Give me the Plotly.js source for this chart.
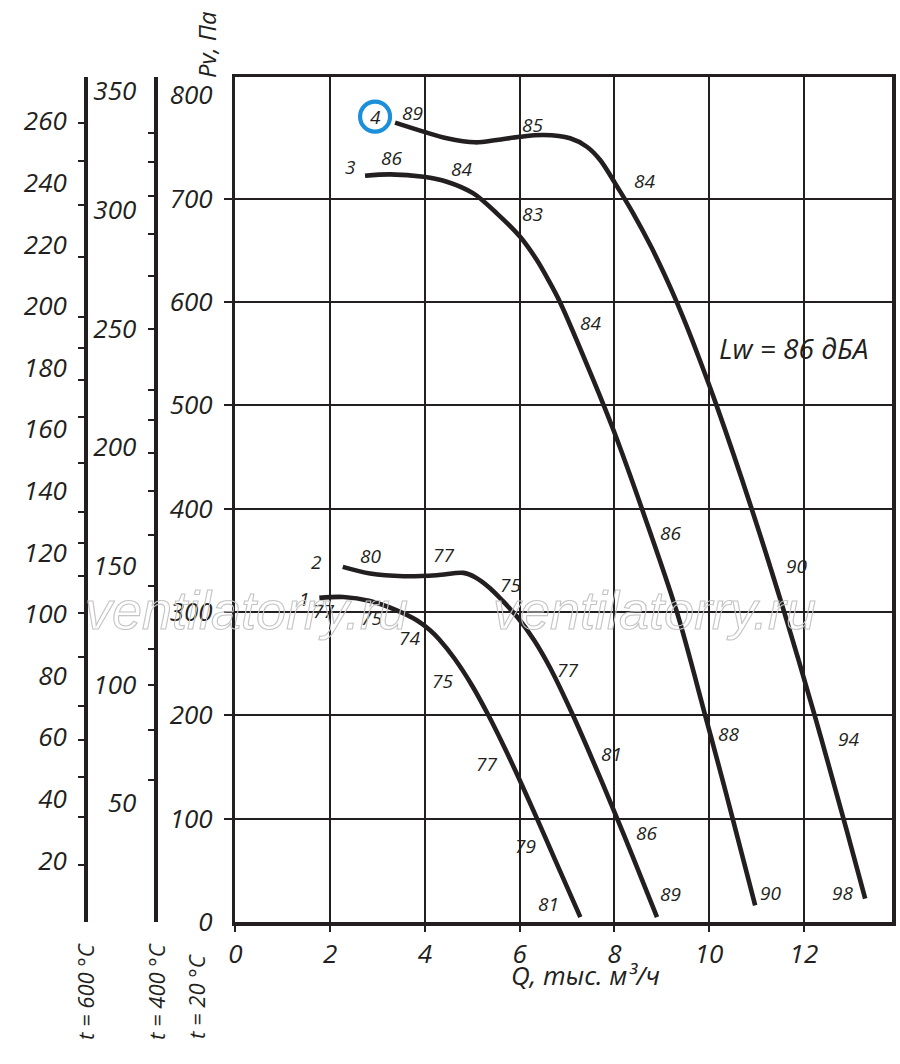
<!DOCTYPE html>
<html>
<head>
<meta charset="utf-8">
<script src="https://cdn.plot.ly/plotly-3.0.1.min.js"></script>
<style>
  html, body { margin: 0; padding: 0; background: #ffffff; }
  #chart { width: 900px; height: 1064px; }
</style>
</head>
<body>
<div id="chart"></div>
<script>
// ---------------- data ----------------
// Fan curves: Q (thousand m3/h) vs Pv (Pa) at t = 20 °C
const C1_Q = [1.774, 2.281, 2.844, 3.408, 3.83, 4.111, 4.301, 4.622, 4.993, 5.342, 5.658, 5.973, 6.368, 6.754, 7.282];
const C1_P = [313.6, 314.5, 310.6, 301.6, 292.0, 282.3, 273.6, 255.2, 229.1, 200.0, 171.0, 140.3, 100.0, 59.6, 4.7];

const C2_Q = [2.268, 2.844, 3.547, 4.253, 4.814, 5.061, 5.376, 5.65, 5.973, 6.307, 6.649, 7.126, 7.544, 7.97, 8.386, 8.9];
const C2_P = [343.6, 337.2, 334.6, 335.5, 337.8, 333.6, 323.0, 310.4, 293.9, 272.6, 245.5, 200.0, 156.4, 110.0, 63.5, 4.7];

const C3_Q = [2.738, 3.267, 3.97, 4.464, 5.025, 5.519, 6.011, 6.364, 6.609, 6.856, 7.558, 7.981, 8.58, 9.319, 9.917, 10.286, 10.497, 10.972];
const C3_P = [722.1, 723.4, 721.1, 716.3, 705.0, 685.7, 663.0, 640.5, 621.1, 599.5, 524.3, 476.0, 400.1, 300.0, 200.0, 137.1, 100.0, 16.1];

const C4_Q = [3.372, 3.97, 4.464, 5.061, 5.519, 6.011, 6.503, 7.067, 7.419, 7.7, 8.017, 8.397, 8.777, 9.207, 9.503, 9.777, 10.155, 10.896, 11.584, 12.228, 12.612, 12.904, 13.294];
const C4_P = [773.4, 764.7, 758.3, 754.4, 756.6, 759.8, 761.5, 758.3, 750.1, 737.3, 714.7, 685.7, 653.3, 611.4, 579.2, 546.9, 500.1, 400.1, 300.0, 200.0, 137.1, 88.7, 22.6];

// curve numbers and where they are written
const CURVE_NAMES = ['1', '2', '3', '4'];
const NAME_Q = [1.458, 1.704, 2.422, 2.95];
const NAME_P = [313.0, 348.4, 730.2, 779.2];
const CIRCLED_CURVE = '4';

// sound power levels (dB) written along each curve
const C1_LW = ['77', '75', '74', '75', '77', '79', '81'];
const C1_LW_Q = [1.859, 2.880, 3.674, 4.379, 5.308, 6.117, 6.609];
const C1_LW_P = [300.7, 294.6, 275.2, 233.2, 153.2, 73.5, 17.0];

const C2_LW = ['80', '77', '75', '77', '81', '86', '89'];
const C2_LW_Q = [2.859, 4.392, 5.800, 7.018, 7.932, 8.686, 9.178];
const C2_LW_P = [353.9, 354.9, 325.8, 244.2, 162.2, 86.4, 26.7];

const C3_LW = ['86', '84', '83', '84', '86', '88', '90'];
const C3_LW_Q = [3.303, 4.766, 6.271, 7.489, 9.178, 10.408, 11.289];
const C3_LW_P = [738.9, 728.3, 685.0, 579.5, 376.5, 182.3, 28.4];

const C4_LW = ['89', '85', '84', '90', '94', '98'];
const C4_LW_Q = [3.746, 6.279, 8.635, 11.838, 12.942, 12.815];
const C4_LW_P = [783.1, 771.2, 717.2, 344.5, 177.4, 28.4];

const LW_NOTE = 'Lw = 86 дБА';
const LW_NOTE_Q = 11.774;
const LW_NOTE_P = 555.0;

// axes
const Q_RANGE = [0, 13.86];
const P_RANGE = [0, 817.6];
const Q_TICKS = [0, 2, 4, 6, 8, 10, 12];
const P_LABELS = [0, 100, 200, 300, 400, 500, 600, 700, 800];
const P_GRID = [100, 200, 300, 400, 500, 600, 700];

// temperature scales (Pa at 600 °C and 400 °C)
const T_REF = 20, T_600 = 600, T_400 = 400;
const T600_LABELS = [20, 40, 60, 80, 100, 120, 140, 160, 180, 200, 220, 240, 260];
const T600_TICKS = [259.5, 247, 233, 216, 196.5, 186.5, 176, 164, 149, 133, 123, 112.5, 100.5, 86, 70, 59, 47, 34, 18.5];
const T400_LABELS = [50, 100, 150, 200, 250, 300, 350];
const T400_TICKS = [332.5, 320, 306, 290, 272, 250, 224, 211.5, 197.5, 181.5, 163, 141.5, 115, 100, 81, 60];

const X_TITLE = 'Q, тыс. м³/ч';
const Y_TITLE = 'Pv, Па';
const T_TITLES = ['t = 600 °C', 't = 400 °C', 't = 20 °C'];
const WATERMARK = 'ventilatorry.ru';
const WATERMARK_Q = [0.238, 8.84];
const WATERMARK_P = 302;

// ---------------- style ----------------
const INK = '#231f20';
const BLUE = '#1b8fd9';
const FONT = '"Open Sans", "Noto Sans", sans-serif';
const W = 900, H = 1064;
const M = {l: 20, r: 8, t: 77, b: 142};
const PLOT_LEFT_PX = 235.3;
const AX600_PX = 86, AX400_PX = 155.5;
const innerW = W - M.l - M.r, innerH = H - M.t - M.b;
const px2paperX = px => (px - M.l) / innerW;
const px2paperY = py => (H - M.b - py) / innerH;

const scale = t => (273 + T_REF) / (273 + t);
const R600 = [0, P_RANGE[1] * scale(T_600)];
const R400 = [0, P_RANGE[1] * scale(T_400)];

// ---------------- traces ----------------
const curveLine = {color: INK, width: 4.6, shape: 'spline', smoothing: 0.9};
const curves = [[C1_Q, C1_P], [C2_Q, C2_P], [C3_Q, C3_P], [C4_Q, C4_P]];
const data = curves.map((c, i) => ({
  type: 'scatter', mode: 'lines', x: c[0], y: c[1],
  name: CURVE_NAMES[i], line: curveLine, hoverinfo: 'x+y', showlegend: false
}));
const ci = CURVE_NAMES.indexOf(CIRCLED_CURVE);
data.push({
  type: 'scatter', mode: 'markers', x: [NAME_Q[ci]], y: [NAME_P[ci]],
  marker: {symbol: 'circle-open', size: 30, color: BLUE, line: {width: 4.2, color: BLUE}},
  hoverinfo: 'skip', showlegend: false
});
// dummy traces so that the overlaying axes exist
['y2', 'y3', 'y4', 'y5', 'y6'].forEach(ya => data.push({
  type: 'scatter', mode: 'lines', x: [null], y: [null], xaxis: 'x', yaxis: ya,
  hoverinfo: 'skip', showlegend: false
}));

// ---------------- annotations ----------------
const labelFont = {family: FONT, size: 19, color: INK, style: 'italic'};
const annotations = [];
function addLabels(texts, qs, ps) {
  texts.forEach((t, i) => annotations.push({
    text: t, x: qs[i], y: ps[i], xref: 'x', yref: 'y',
    showarrow: false, xanchor: 'center', yanchor: 'middle', font: labelFont
  }));
}
addLabels(CURVE_NAMES, NAME_Q, NAME_P);
addLabels(C1_LW, C1_LW_Q, C1_LW_P);
addLabels(C2_LW, C2_LW_Q, C2_LW_P);
addLabels(C3_LW, C3_LW_Q, C3_LW_P);
addLabels(C4_LW, C4_LW_Q, C4_LW_P);
annotations.push({
  text: LW_NOTE, x: LW_NOTE_Q, y: LW_NOTE_P, xref: 'x', yref: 'y', showarrow: false,
  xanchor: 'center', yanchor: 'middle', font: {family: FONT, size: 28, color: INK, style: 'italic'}
});
WATERMARK_Q.forEach(q => annotations.push({
  text: WATERMARK, x: q, y: WATERMARK_P, xref: 'x', yref: 'y', showarrow: false,
  xanchor: 'center', yanchor: 'middle',
  font: {family: '"Liberation Sans", Arial, sans-serif', size: 54, color: 'rgba(0,0,0,0)', style: 'italic'}
}));
// axis titles
annotations.push({
  text: X_TITLE, x: px2paperX(585), y: px2paperY(975), xref: 'paper', yref: 'paper',
  showarrow: false, xanchor: 'center', yanchor: 'middle',
  font: {family: FONT, size: 26, color: INK, style: 'italic'}
});
annotations.push({
  text: Y_TITLE, x: px2paperX(207), y: px2paperY(45), xref: 'paper', yref: 'paper',
  showarrow: false, xanchor: 'center', yanchor: 'middle', textangle: -90,
  font: {family: FONT, size: 24, color: INK, style: 'italic'}
});
const tTitlePx = [[85, 992], [156, 992], [196, 997]];
T_TITLES.forEach((t, i) => annotations.push({
  text: t, x: px2paperX(tTitlePx[i][0]), y: px2paperY(tTitlePx[i][1]), xref: 'paper', yref: 'paper',
  showarrow: false, xanchor: 'center', yanchor: 'middle', textangle: -90,
  font: {family: FONT, size: 22, color: INK, style: 'italic'}
}));

// ---------------- layout ----------------
const tickFont = {family: FONT, size: 26, color: INK, style: 'italic'};
const hidden = 'rgba(0,0,0,0)';
const layout = {
  width: W, height: H, margin: {l: M.l, r: M.r, t: M.t, b: M.b, pad: 0},
  paper_bgcolor: '#ffffff', plot_bgcolor: '#ffffff', showlegend: false,
  font: {family: FONT, color: INK},
  xaxis: {
    domain: [px2paperX(PLOT_LEFT_PX), 1], range: Q_RANGE, tickvals: Q_TICKS,
    ticks: 'outside', ticklen: 6, tickwidth: 2, tickcolor: INK, tickfont: tickFont,
    showgrid: true, gridcolor: INK, gridwidth: 2, zeroline: false,
    showline: true, mirror: true, linecolor: INK, linewidth: 3.5, fixedrange: true
  },
  yaxis: {
    range: P_RANGE, tickvals: P_LABELS, ticks: 'outside', ticklen: 14, tickcolor: hidden,
    tickfont: tickFont, showgrid: false, zeroline: false,
    showline: true, mirror: true, linecolor: INK, linewidth: 3.5, fixedrange: true
  },
  yaxis6: {
    overlaying: 'y', anchor: 'x', side: 'left', range: P_RANGE, tickvals: P_GRID,
    ticks: 'outside', ticklen: 10, tickwidth: 2, tickcolor: INK, showticklabels: false,
    showgrid: true, gridcolor: INK, gridwidth: 2, zeroline: false, showline: false, fixedrange: true
  },
  yaxis2: {
    overlaying: 'y', anchor: 'free', side: 'left', position: px2paperX(AX600_PX), range: R600,
    tickvals: T600_LABELS, ticks: 'outside', ticklen: 12, tickcolor: hidden, tickfont: tickFont,
    showgrid: false, zeroline: false, showline: true, linecolor: INK, linewidth: 4, fixedrange: true
  },
  yaxis3: {
    overlaying: 'y', anchor: 'free', side: 'left', position: px2paperX(AX600_PX), range: R600,
    tickvals: T600_TICKS, ticks: 'outside', ticklen: 8, tickwidth: 2, tickcolor: INK,
    showticklabels: false, showgrid: false, zeroline: false, showline: false, fixedrange: true
  },
  yaxis4: {
    overlaying: 'y', anchor: 'free', side: 'left', position: px2paperX(AX400_PX), range: R400,
    tickvals: T400_LABELS, ticks: 'outside', ticklen: 12, tickcolor: hidden, tickfont: tickFont,
    showgrid: false, zeroline: false, showline: true, linecolor: INK, linewidth: 4, fixedrange: true
  },
  yaxis5: {
    overlaying: 'y', anchor: 'free', side: 'left', position: px2paperX(AX400_PX), range: R400,
    tickvals: T400_TICKS, ticks: 'outside', ticklen: 8, tickwidth: 2, tickcolor: INK,
    showticklabels: false, showgrid: false, zeroline: false, showline: false, fixedrange: true
  },
  annotations: annotations
};

Plotly.newPlot('chart', data, layout, {displayModeBar: false, staticPlot: true}).then(gd => {
  gd.querySelectorAll('.annotation-text').forEach(t => {
    if (t.textContent === WATERMARK) {
      t.style.fill = 'none';
      t.style.stroke = '#c4c4c4';
      t.style.strokeWidth = '1.1px';
    }
  });
});
</script>
</body>
</html>
